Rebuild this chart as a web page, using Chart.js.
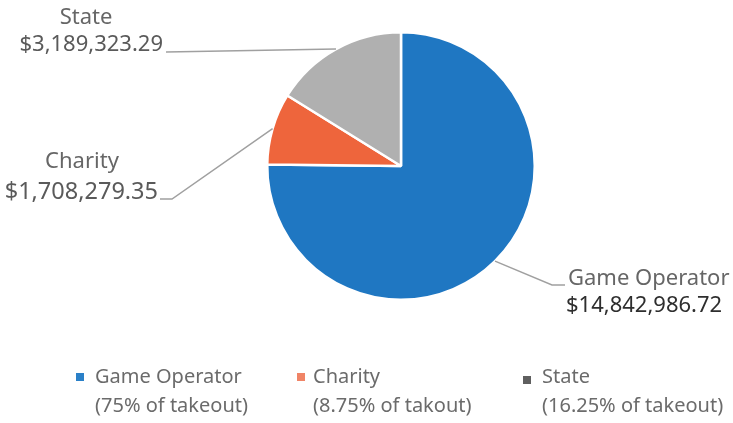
<!DOCTYPE html>
<html>
<head>
<meta charset="utf-8">
<script src="https://cdn.jsdelivr.net/npm/chart.js@4.4.1/dist/chart.umd.min.js"></script>
<style>
    html, body { margin: 0; padding: 0; background: #ffffff; }
    #wrap { position: relative; width: 733px; height: 423px; }
</style>
</head>
<body>
<div id="wrap"><canvas id="takeoutChart"></canvas></div>
<script>
const categories = ["Game Operator", "Charity", "State"];
const amounts = [14842986.72, 1708279.35, 3189323.29];
const takeoutNotes = ["(75% of takeout)", "(8.75% of takout)", "(16.25% of takeout)"];

const sliceColors = ["#1f77c2", "#ee653c", "#b0b0b0"];
const markerColors = ["#2a80c8", "#f08466", "#5f5f5f"];

const money = v => "$" + v.toLocaleString("en-US", { minimumFractionDigits: 2, maximumFractionDigits: 2 });

// where each callout sits (leader line elbow/end + text anchors)
const calloutLayout = [
    { elbow: [552, 285], end: [565, 285], name: [568, 279, "left"], value: [566, 306, "left"], valueColor: "#2e2e2e", size: 22 },
    { elbow: [172, 199], end: [160, 199], name: [82, 162, "center"], value: [158, 192, "right"], valueColor: "#5a5a5a", size: 23.5 },
    { elbow: null, end: [166, 52], name: [86, 18, "center"], value: [163, 45, "right"], valueColor: "#5a5a5a", size: 22 }
];

const legendLayout = [
    { marker: [76, 373], text: [95, 377] },
    { marker: [297, 373], text: [313, 377] },
    { marker: [523, 376], text: [542, 377] }
];

const calloutPlugin = {
    id: "callouts",
    afterDraw(chart) {
        const { ctx } = chart;
        const arcs = chart.getDatasetMeta(0).data;
        ctx.save();
        arcs.forEach((arc, i) => {
            const lay = calloutLayout[i];
            const { x, y, startAngle, endAngle, outerRadius } = arc.getProps(["x", "y", "startAngle", "endAngle", "outerRadius"], true);
            const mid = (startAngle + endAngle) / 2;
            const sx = x + Math.cos(mid) * outerRadius;
            const sy = y + Math.sin(mid) * outerRadius;

            ctx.strokeStyle = "#a0a0a0";
            ctx.lineWidth = 1.5;
            ctx.beginPath();
            ctx.moveTo(sx, sy);
            if (lay.elbow) ctx.lineTo(lay.elbow[0], lay.elbow[1]);
            ctx.lineTo(lay.end[0], lay.end[1]);
            ctx.stroke();

            ctx.textBaseline = "middle";
            ctx.font = "22px 'Noto Sans', sans-serif";
            ctx.fillStyle = "#666666";
            ctx.textAlign = lay.name[2];
            ctx.fillText(categories[i], lay.name[0], lay.name[1]);
            ctx.font = lay.size + "px 'Noto Sans', sans-serif";
            ctx.fillStyle = lay.valueColor;
            ctx.textAlign = lay.value[2];
            ctx.fillText(money(amounts[i]), lay.value[0], lay.value[1]);
        });

        // legend
        ctx.font = "20px 'Noto Sans', sans-serif";
        ctx.textAlign = "left";
        ctx.textBaseline = "middle";
        legendLayout.forEach((lay, i) => {
            ctx.fillStyle = markerColors[i];
            ctx.fillRect(lay.marker[0], lay.marker[1], 8, 8);
            ctx.fillStyle = "#6b6b6b";
            ctx.fillText(categories[i], lay.text[0], lay.text[1]);
            ctx.fillText(takeoutNotes[i], lay.text[0], lay.text[1] + 29);
        });
        ctx.restore();
    }
};

new Chart(document.getElementById("takeoutChart"), {
    type: "pie",
    data: {
        labels: categories,
        datasets: [
            {
                data: amounts,
                backgroundColor: sliceColors,
                borderColor: "#ffffff",
                borderWidth: 2.5
            }
        ]
    },
    options: {
        responsive: true,
        maintainAspectRatio: false,
        animation: false,
        layout: { padding: { left: 266, right: 197, top: 31, bottom: 122 } },
        plugins: {
            legend: { display: false },
            tooltip: { enabled: false }
        }
    },
    plugins: [calloutPlugin]
});
</script>
</body>
</html>
